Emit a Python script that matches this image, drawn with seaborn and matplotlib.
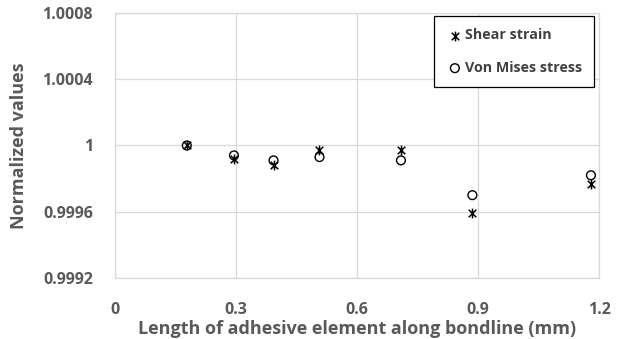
import numpy as np
import pandas as pd
import matplotlib
matplotlib.use("Agg")
import matplotlib.pyplot as plt
from matplotlib.path import Path
import seaborn as sns

# values
length_mm = [0.178, 0.295, 0.393, 0.507, 0.709, 0.886, 1.180]
shear_strain = [1.00000, 0.99992, 0.99988, 0.99997, 0.99997, 0.99959, 0.99977]
von_mises = [1.00000, 0.99994, 0.99991, 0.99993, 0.99991, 0.99970, 0.99982]

x_ticks = [0, 0.3, 0.6, 0.9, 1.2]
y_ticks = [0.9992, 0.9996, 1.0, 1.0004, 1.0008]
y_labels = ["0.9992", "0.9996", "1", "1.0004", "1.0008"]

sns.set_style("white")
plt.rcParams["font.family"] = ["Open Sans", "DejaVu Sans"]

# excel style star marker: X plus vertical bar
star = Path([(-1, -1), (1, 1), (-1, 1), (1, -1), (0, -1.3), (0, 1.3)],
            [Path.MOVETO, Path.LINETO, Path.MOVETO, Path.LINETO, Path.MOVETO, Path.LINETO])

fig = plt.figure(figsize=(6.19, 3.39), dpi=100)
ax = fig.add_axes([0.1858, 0.180, 0.7819, 0.7817])

sns.scatterplot(x=length_mm, y=shear_strain, marker=star, s=50, color="black",
                edgecolor="black", linewidth=1.1, label="Shear strain", ax=ax, zorder=3)
sns.scatterplot(x=length_mm, y=von_mises, marker="o", s=40, facecolor="none",
                edgecolor="black", linewidth=1.0, label="Von Mises stress", ax=ax, zorder=3)

gray = "#595959"
ax.set_xlim(0, 1.2)
ax.set_ylim(0.9992, 1.0008)
ax.set_xticks(x_ticks)
ax.set_xticklabels(["0", "0.3", "0.6", "0.9", "1.2"])
ax.set_yticks(y_ticks)
ax.set_yticklabels(y_labels)
ax.tick_params(axis="both", length=0, labelsize=11.5, labelcolor=gray)
ax.tick_params(axis="x", pad=17)
ax.tick_params(axis="y", pad=16)
for lab in ax.get_xticklabels() + ax.get_yticklabels():
    lab.set_fontweight("bold")
ax.grid(True, color="#d9d9d9", linewidth=0.9)
for sp in ax.spines.values():
    sp.set_color("#d9d9d9")
    sp.set_linewidth(0.9)

ax.set_xlabel("Length of adhesive element along bondline (mm)", fontsize=13,
              fontweight="bold", color=gray, labelpad=2)
ax.set_ylabel("Normalized values", fontsize=13, fontweight="bold", color=gray, labelpad=10)

leg = ax.legend(loc="upper right", bbox_to_anchor=(0.99, 0.988), borderaxespad=0,
                frameon=True, fancybox=False, edgecolor="black", framealpha=1,
                prop={"weight": "bold", "size": 10.3}, handletextpad=0.1,
                labelspacing=1.3, borderpad=0.85, handlelength=1.2, labelcolor="#404040")
leg.get_frame().set_linewidth(0.9)

fig.savefig("out.png", dpi=100)
